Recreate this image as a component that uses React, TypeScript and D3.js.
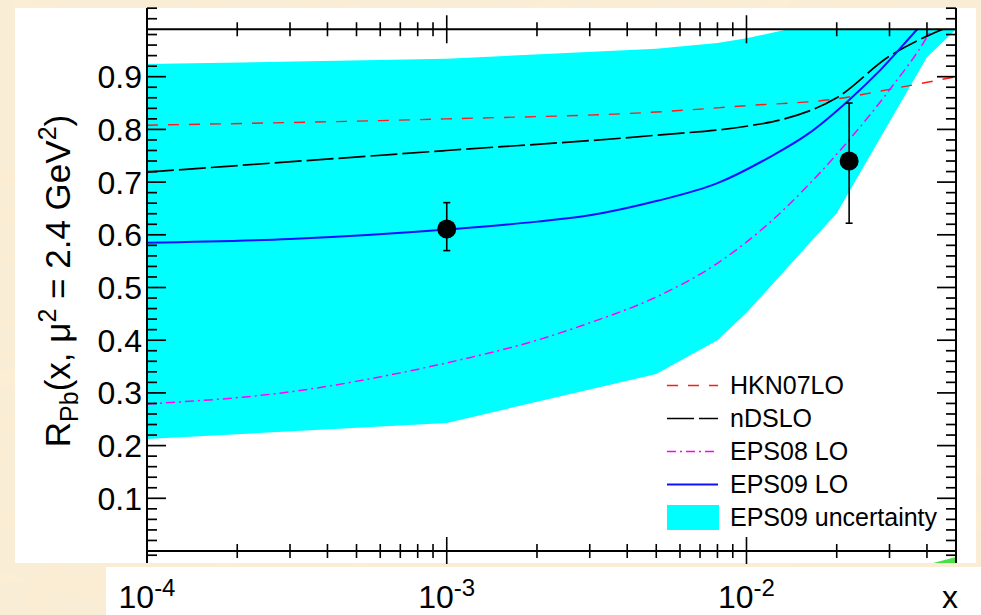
import React from 'react';
import * as d3 from 'd3';

const W = 981;
const H = 615;

// EPS09 uncertainty band
const bandX = [1e-4, 1e-3, 5e-3, 8e-3, 1e-2, 2e-2, 4e-2, 5e-2];
const bandLow = [0.2125, 0.243, 0.336, 0.4, 0.452, 0.641, 0.937, 0.99];
const bandHigh = [0.924, 0.934, 0.953, 0.964, 0.973, 1.01, 1.05, 1.06];

// HKN07LO
const hknX = [1e-4, 1e-3, 5e-3, 1e-2, 2e-2, 3e-2, 5e-2];
const hknR = [0.808, 0.82, 0.833, 0.845, 0.858, 0.876, 0.9];

// nDSLO
const ndsX = [1e-4, 1e-3, 5e-3, 1e-2, 1.3e-2, 2e-2, 3e-2, 4e-2, 5e-2];
const ndsR = [0.719, 0.76, 0.789, 0.806, 0.818, 0.86, 0.939, 0.977, 1.0];

// EPS08 LO
const eps08X = [1e-4, 3e-4, 7e-4, 1e-3, 2e-3, 3e-3, 5e-3, 8e-3, 1.2e-2, 1.6e-2, 2.2e-2, 3e-2, 4e-2, 5e-2];
const eps08R = [0.279, 0.302, 0.338, 0.357, 0.4, 0.433, 0.482, 0.546, 0.624, 0.693, 0.78, 0.875, 0.975, 1.08];

// EPS09 LO
const eps09X = [1e-4, 3e-4, 1e-3, 2e-3, 3e-3, 5e-3, 8e-3, 1.2e-2, 1.6e-2, 2.2e-2, 2.8e-2, 3.7e-2, 5e-2];
const eps09R = [0.585, 0.592, 0.61, 0.625, 0.637, 0.664, 0.698, 0.748, 0.791, 0.856, 0.913, 0.989, 1.07];

// data points
const dataX = [1e-3, 0.022];
const dataR = [0.611, 0.74];
const dataLow = [0.57, 0.622];
const dataHigh = [0.661, 0.85];

// small green sliver at bottom right
const greenX = [0.042, 0.05];
const greenTop = [-0.0228, -0.0114];
const greenBottom = [-0.0228, -0.0228];

const xDecades = [1e-4, 1e-3, 1e-2];
const xDecadeExp = ['-4', '-3', '-2'];
const yMajor = [0.1, 0.2, 0.3, 0.4, 0.5, 0.6, 0.7, 0.8, 0.9];
const yMajorLabels = ['0.1', '0.2', '0.3', '0.4', '0.5', '0.6', '0.7', '0.8', '0.9'];
const yExtraMinor = [1.01, 1.03, -0.008];
const topLineValue = 0.99;

const legendLabels = ['HKN07LO', 'nDSLO', 'EPS08 LO', 'EPS09 LO', 'EPS09 uncertainty'];

const FONT = "'Liberation Sans', Arial, Helvetica, sans-serif";

export default function App() {
  const x = d3.scaleLog().domain([1e-4, 0.05]).range([147, 956]);
  const y = d3.scaleLinear().domain([0, 1]).range([551, 24]);

  const x0 = x(1e-4);
  const x1 = x(0.05);
  const yTop = y(topLineValue);
  const yBot = y(0);

  const area = d3
    .area<number>()
    .x((_, i) => x(bandX[i]))
    .y0((_, i) => y(bandLow[i]))
    .y1((_, i) => y(bandHigh[i]));
  const bandPath = area(bandX) || '';

  const greenArea = d3
    .area<number>()
    .x((_, i) => x(greenX[i]))
    .y0((_, i) => y(greenBottom[i]))
    .y1((_, i) => y(greenTop[i]));

  const mkLine = (xs: number[], rs: number[]) =>
    d3
      .line<number>()
      .x((_, i) => x(xs[i]))
      .y((_, i) => y(rs[i]))
      .curve(d3.curveMonotoneX)(xs) || '';

  const xMinor: number[] = [];
  xDecades.forEach((d) => {
    for (let m = 2; m <= 9; m++) {
      const v = m * d;
      if (v <= 0.05 + 1e-12) xMinor.push(v);
    }
  });
  const yMinor: number[] = d3
    .range(1, 50)
    .map((i) => i * 0.02)
    .filter((v) => Math.abs(v * 10 - Math.round(v * 10)) > 1e-6)
    .concat(yExtraMinor);

  const axisTop = 8;
  const axisBottom = 563;

  const curves = [
    { d: mkLine(hknX, hknR), color: '#ff1a1a', dash: '11,10', w: 1.4 },
    { d: mkLine(ndsX, ndsR), color: '#000000', dash: '27,5', w: 1.7 },
    { d: mkLine(eps08X, eps08R), color: '#ff00ff', dash: '9,4,2,4', w: 1.5 },
    { d: mkLine(eps09X, eps09R), color: '#1010ff', dash: undefined, w: 2 },
  ];

  const legendX0 = 667;
  const legendX1 = 718;
  const legendTextX = 730;
  const legendBase0 = 394;
  const legendStep = 33;

  return (
    <svg
      width={W}
      height={H}
      viewBox={`0 0 ${W} ${H}`}
      style={{ position: 'absolute', left: 0, top: 0, display: 'block' }}
      fontFamily={FONT}
    >
      <defs>
        <clipPath id="plotClip">
          <rect x={x0} y={yTop} width={x1 - x0} height={yBot - yTop} />
        </clipPath>
        <filter id="paper" x="0" y="0" width="100%" height="100%">
          <feTurbulence type="fractalNoise" baseFrequency="0.012 0.03" numOctaves={3} seed={4} result="n" />
          <feColorMatrix
            in="n"
            type="matrix"
            values="0 0 0 0 0.93  0 0 0 0 0.82  0 0 0 0 0.62  0 0 0 0.35 0"
          />
        </filter>
      </defs>

      {/* parchment background */}
      <rect x={0} y={0} width={W} height={H} fill="#fbeed6" />
      <rect x={0} y={0} width={W} height={H} filter="url(#paper)" />

      {/* white panels */}
      <rect x={15} y={8} width={961} height={555} fill="#ffffff" />
      <rect x={106} y={567} width={W - 106} height={H - 567} fill="#ffffff" />

      {/* band */}
      <g clipPath="url(#plotClip)">
        <path d={bandPath} fill="#00ffff" stroke="none" />
        {curves.map((c, i) => (
          <path
            key={i}
            d={c.d}
            fill="none"
            stroke={c.color}
            strokeWidth={c.w}
            strokeDasharray={c.dash}
          />
        ))}
      </g>

      {/* green sliver */}
      <path d={greenArea(greenX) || ''} fill="#33dd33" opacity={0.9} />

      {/* data points */}
      {dataX.map((dx, i) => {
        const cx = x(dx);
        return (
          <g key={i}>
            <line x1={cx} x2={cx} y1={y(dataLow[i])} y2={y(dataHigh[i])} stroke="#000" strokeWidth={1.6} />
            <line x1={cx - 3.5} x2={cx + 3.5} y1={y(dataLow[i])} y2={y(dataLow[i])} stroke="#000" strokeWidth={1.6} />
            <line x1={cx - 3.5} x2={cx + 3.5} y1={y(dataHigh[i])} y2={y(dataHigh[i])} stroke="#000" strokeWidth={1.6} />
            <circle cx={cx} cy={y(dataR[i])} r={9.5} fill="#000" />
          </g>
        );
      })}

      {/* axes lines */}
      <g stroke="#000" strokeWidth={2} fill="none">
        <line x1={x0} x2={x0} y1={axisTop} y2={axisBottom} />
        <line x1={x1} x2={x1} y1={axisTop} y2={axisBottom} />
        <line x1={x0} x2={x1} y1={yBot} y2={yBot} />
        <line x1={x0} x2={x1} y1={yTop} y2={yTop} />
      </g>

      {/* y ticks */}
      <g stroke="#000" strokeWidth={1.7}>
        {yMajor.map((v) => (
          <g key={'ym' + v}>
            <line x1={x0} x2={x0 + 19} y1={y(v)} y2={y(v)} />
            <line x1={x1} x2={x1 - 19} y1={y(v)} y2={y(v)} />
          </g>
        ))}
        {yMinor.map((v) => (
          <g key={'yn' + v}>
            <line x1={x0} x2={x0 + 10} y1={y(v)} y2={y(v)} />
            <line x1={x1} x2={x1 - 10} y1={y(v)} y2={y(v)} />
          </g>
        ))}
      </g>

      {/* x ticks on bottom axis and top line */}
      <g stroke="#000" strokeWidth={1.6}>
        {xDecades.slice(1).map((v) => (
          <g key={'xm' + v}>
            <line x1={x(v)} x2={x(v)} y1={yBot - 14} y2={yBot + 13} />
            <line x1={x(v)} x2={x(v)} y1={yTop - 14} y2={yTop + 14} />
          </g>
        ))}
        {xMinor.map((v) => (
          <g key={'xn' + v}>
            <line x1={x(v)} x2={x(v)} y1={yBot - 7} y2={yBot + 7} />
            <line x1={x(v)} x2={x(v)} y1={yTop - 7} y2={yTop + 7} />
          </g>
        ))}
      </g>

      {/* y tick labels */}
      <g fontSize={32} textAnchor="end" fill="#000">
        {yMajor.map((v, i) => (
          <text key={'yl' + v} x={142} y={y(v)} dy="0.36em">
            {yMajorLabels[i]}
          </text>
        ))}
      </g>

      {/* x tick labels */}
      <g fill="#000" textAnchor="middle">
        {xDecades.map((v, i) => (
          <text key={'xl' + v} x={x(v)} y={608} fontSize={32}>
            10
            <tspan fontSize={24} dy={-12}>
              {xDecadeExp[i]}
            </tspan>
          </text>
        ))}
      </g>
      <text x={942} y={608} fontSize={32} fill="#000">
        x
      </text>

      {/* y title */}
      <text transform="translate(70,281) rotate(-90)" textAnchor="middle" fontSize={35} fill="#000">
        R
        <tspan fontSize={25} dy={8}>
          Pb
        </tspan>
        <tspan dy={-8}>(x, μ</tspan>
        <tspan fontSize={25} dy={-14}>
          2
        </tspan>
        <tspan dy={14}> = 2.4 GeV</tspan>
        <tspan fontSize={25} dy={-14}>
          2
        </tspan>
        <tspan dy={14}>)</tspan>
      </text>

      {/* legend */}
      <g fontSize={25} fill="#000">
        {legendLabels.map((lab, i) => {
          const base = legendBase0 + i * legendStep;
          const ly = base - 8.5;
          let sample: React.ReactNode = null;
          if (i < 4) {
            const c = [curves[0], curves[1], curves[2], curves[3]][i];
            sample = (
              <line
                x1={legendX0}
                x2={legendX1}
                y1={ly}
                y2={ly}
                stroke={c.color}
                strokeWidth={c.w}
                strokeDasharray={c.dash}
              />
            );
          } else {
            sample = <rect x={legendX0} y={ly - 12.5} width={legendX1 - legendX0 + 1} height={25} fill="#00ffff" />;
          }
          return (
            <g key={lab}>
              {sample}
              <text x={legendTextX} y={base}>
                {lab}
              </text>
            </g>
          );
        })}
      </g>
    </svg>
  );
}
